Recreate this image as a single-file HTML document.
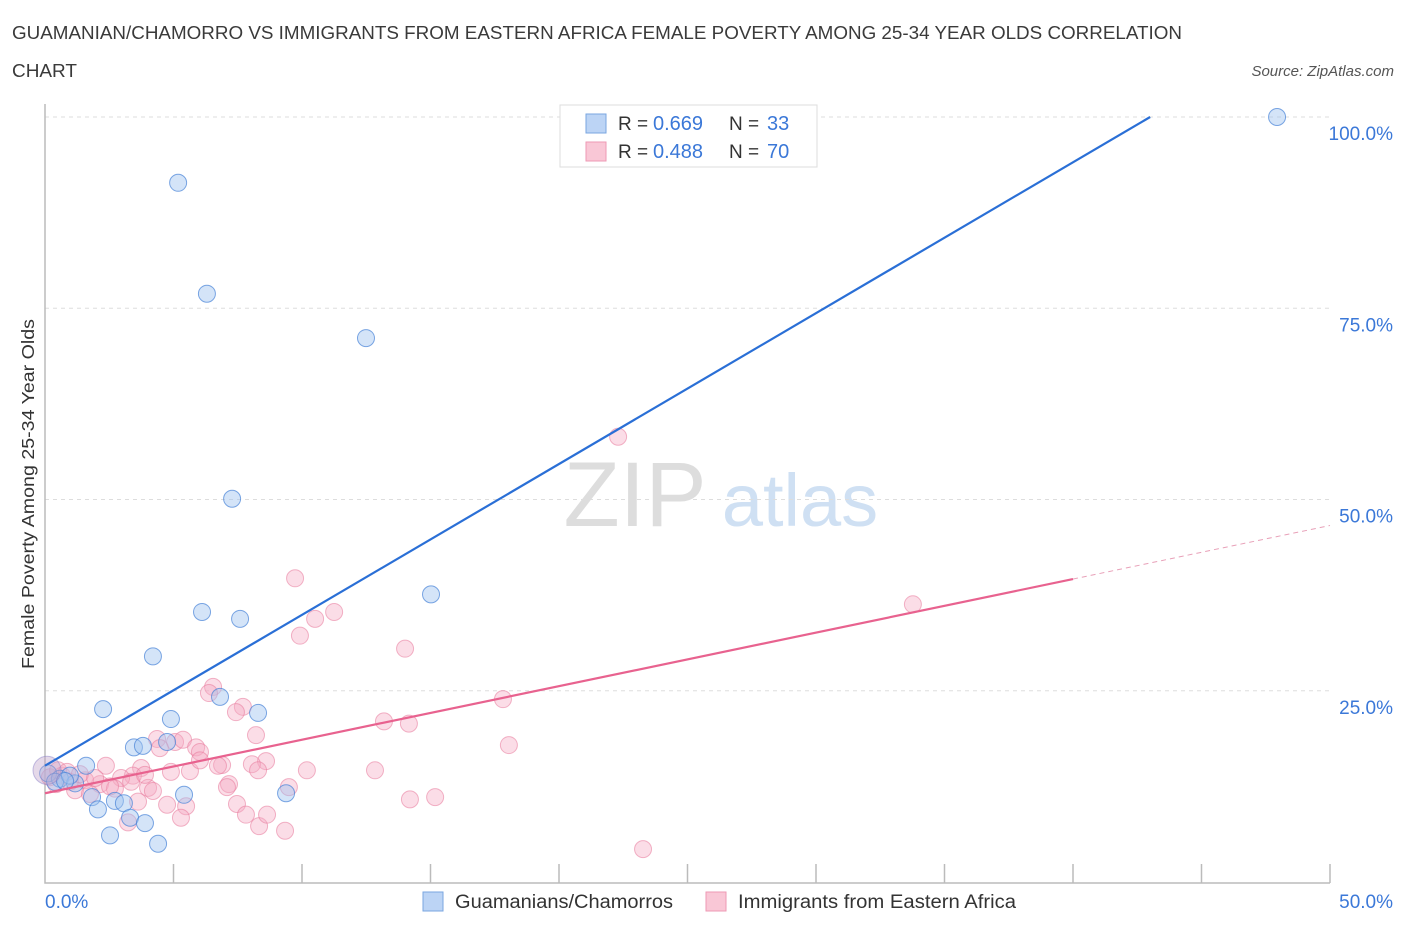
<!DOCTYPE html>
<html><head><meta charset="utf-8"><style>
body{margin:0;background:#fff;font-family:"Liberation Sans",sans-serif}
svg text{font-family:"Liberation Sans",sans-serif}
</style></head><body>
<svg id="chart" width="1406" height="930" xmlns="http://www.w3.org/2000/svg">
<text x="12" y="39" font-size="18" fill="#3a3a3a" textLength="1170" lengthAdjust="spacingAndGlyphs">GUAMANIAN/CHAMORRO VS IMMIGRANTS FROM EASTERN AFRICA FEMALE POVERTY AMONG 25-34 YEAR OLDS CORRELATION</text>
<text x="12" y="77" font-size="18" fill="#3a3a3a" textLength="65" lengthAdjust="spacingAndGlyphs">CHART</text>
<text x="1394" y="76" font-size="15" font-style="italic" fill="#555" text-anchor="end">Source: ZipAtlas.com</text>
<text transform="translate(34,494) rotate(-90)" font-size="17.5" fill="#333" text-anchor="middle" textLength="350" lengthAdjust="spacingAndGlyphs">Female Poverty Among 25-34 Year Olds</text>
<g>
<text x="635" y="526" font-size="92" font-family="Liberation Serif" fill="#ddd" text-anchor="middle">ZIP</text>
<text x="800" y="526" font-size="74" fill="#cfe0f3" text-anchor="middle">atlas</text>
</g>
<g id="grid"></g><g id="axes"></g><g id="pts"></g><g id="lines"></g>
<g>
<rect x="560" y="105" width="257" height="62" fill="#fff" stroke="#ddd"/>
<rect x="586" y="114" width="20" height="19" fill="#bcd4f5" stroke="#7aa6e0"/>
<rect x="586" y="142" width="20" height="19" fill="#f9c7d6" stroke="#ee9ab4"/>
<text x="618" y="130" font-size="19" fill="#333">R =</text>
<text x="653" y="130" font-size="20" fill="#3b78d8">0.669</text>
<text x="729" y="130" font-size="19" fill="#333">N =</text>
<text x="767" y="130" font-size="20" fill="#3b78d8">33</text>
<text x="618" y="158" font-size="19" fill="#333">R =</text>
<text x="653" y="158" font-size="20" fill="#3b78d8">0.488</text>
<text x="729" y="158" font-size="19" fill="#333">N =</text>
<text x="767" y="158" font-size="20" fill="#3b78d8">70</text>
</g>
<g>
<rect x="423" y="892" width="20" height="19" fill="#bcd4f5" stroke="#7aa6e0"/>
<text x="455" y="908" font-size="19" fill="#333" textLength="218" lengthAdjust="spacingAndGlyphs">Guamanians/Chamorros</text>
<rect x="706" y="892" width="20" height="19" fill="#f9c7d6" stroke="#ee9ab4"/>
<text x="738" y="908" font-size="19" fill="#333" textLength="278" lengthAdjust="spacingAndGlyphs">Immigrants from Eastern Africa</text>
</g>
</svg>
<script>
const blueX=[5.18,6.30,12.49,7.28,15.02,6.11,7.59,4.20,2.26,6.81,8.29,4.90,3.46,3.81,4.75,1.60,0.12,0.58,1.17,1.83,2.72,3.07,2.06,5.41,9.38,3.31,3.89,2.53,4.40,47.94,0.39,0.97,0.78];
const blueY=[91.4,76.9,71.1,50.1,37.6,35.3,34.4,29.5,22.6,24.2,22.1,21.3,17.6,17.8,18.3,15.2,14.2,13.5,12.9,11.1,10.6,10.3,9.5,11.4,11.6,8.4,7.7,6.1,5.0,100,13.1,13.9,13.2];
const pinkX=[22.30,9.73,11.25,10.51,9.92,14.01,33.77,6.54,6.38,7.70,7.43,17.82,13.19,14.16,8.21,18.05,4.36,5.06,5.37,5.88,6.03,4.47,8.60,8.05,6.89,6.73,3.74,2.37,3.42,5.64,10.19,12.84,2.96,2.14,1.56,0.97,0.66,0.43,1.17,1.75,2.72,3.35,4.01,4.20,7.16,7.08,9.49,4.90,4.75,5.49,3.62,7.47,7.82,8.33,8.64,9.34,5.29,3.23,14.20,15.18,23.27,0.19,0.51,0.86,1.36,1.95,2.53,3.89,6.03,8.29];
const pinkY=[58.2,39.7,35.3,34.4,32.2,30.5,36.3,25.5,24.7,22.9,22.2,23.9,21.0,20.7,19.2,17.9,18.7,18.3,18.6,17.6,17.0,17.5,15.8,15.4,15.3,15.2,14.9,15.2,13.9,14.5,14.6,14.6,13.6,12.8,13.3,13.1,13.9,12.8,12.0,11.5,12.2,13.1,12.3,11.9,12.8,12.4,12.4,14.4,10.1,9.9,10.5,10.2,8.8,7.3,8.8,6.7,8.4,7.8,10.8,11.1,4.3,13.7,14.6,14.4,14.1,13.6,12.5,14.0,15.9,14.6];
const yTicks=[25,50,75,100];
const yTickLabels=["25.0%","50.0%","75.0%","100.0%"];
const xTicks=[0,5,10,15,20,25,30,35,40,45,50];
const blueFit=[15.2,1.972];
const pinkFit=[11.6,0.70];
const pinkSolidEnd=40;
const NS="http://www.w3.org/2000/svg";
const sx=v=>45+v*25.7, sy=v=>882-v*7.65;
function mk(p,t,a){const e=document.createElementNS(NS,t);for(const k in a)e.setAttribute(k,a[k]);document.getElementById(p).appendChild(e);return e;}
yTicks.forEach((t,i)=>{
 const g=mk('grid','line',{x1:45,x2:1330,y1:sy(t),y2:sy(t),stroke:'#ddd','stroke-dasharray':'4,4'});
 
 
 const l=mk('axes','text',{x:1393,y:sy(t)+23,'font-size':19,fill:'#3b78d8','text-anchor':'end'});l.textContent=yTickLabels[i];
 
 
});
const ax=mk('axes','path',{d:'M45,104V883H1330',fill:'none',stroke:'#bbb','stroke-width':1.5});


xTicks.forEach(t=>{if(t===0)return;const l=mk('axes','line',{x1:sx(t),x2:sx(t),y1:864,y2:883,stroke:'#bbb','stroke-width':1.5});
 
 });
const x0=mk('axes','text',{x:45,y:908,'font-size':19,fill:'#3b78d8'});x0.textContent='0.0%';


const x1=mk('axes','text',{x:1393,y:908,'font-size':19,fill:'#3b78d8','text-anchor':'end'});x1.textContent='50.0%';


pinkX.forEach((v,i)=>{const c=mk('pts','circle',{cx:sx(v),cy:sy(pinkY[i]),r:8.5,fill:'rgba(246,170,195,0.4)',stroke:'rgba(232,120,155,0.55)'});
 
 });
blueX.forEach((v,i)=>{const c=mk('pts','circle',{cx:sx(v),cy:sy(blueY[i]),r:8.5,fill:'rgba(160,195,240,0.45)',stroke:'rgba(70,130,215,0.7)'});
 
 });
const big=mk('pts','circle',{cx:47,cy:sy(14.6),r:14,fill:'rgba(190,160,200,0.4)',stroke:'rgba(140,130,200,0.5)'});


const bEnd=(100-blueFit[0])/blueFit[1];
const bl=mk('lines','line',{x1:sx(0),y1:sy(blueFit[0]),x2:sx(bEnd),y2:sy(100),stroke:'#2a6fd6','stroke-width':2.2});


const pl=mk('lines','line',{x1:sx(0),y1:sy(pinkFit[0]),x2:sx(pinkSolidEnd),y2:sy(pinkFit[0]+pinkFit[1]*pinkSolidEnd),stroke:'#e8628f','stroke-width':2.2});


const pd=mk('lines','line',{x1:sx(pinkSolidEnd),y1:sy(pinkFit[0]+pinkFit[1]*pinkSolidEnd),x2:sx(50),y2:sy(pinkFit[0]+pinkFit[1]*50),stroke:'#e8a0b8','stroke-width':1,'stroke-dasharray':'5,4'});


</script>
</body></html>
